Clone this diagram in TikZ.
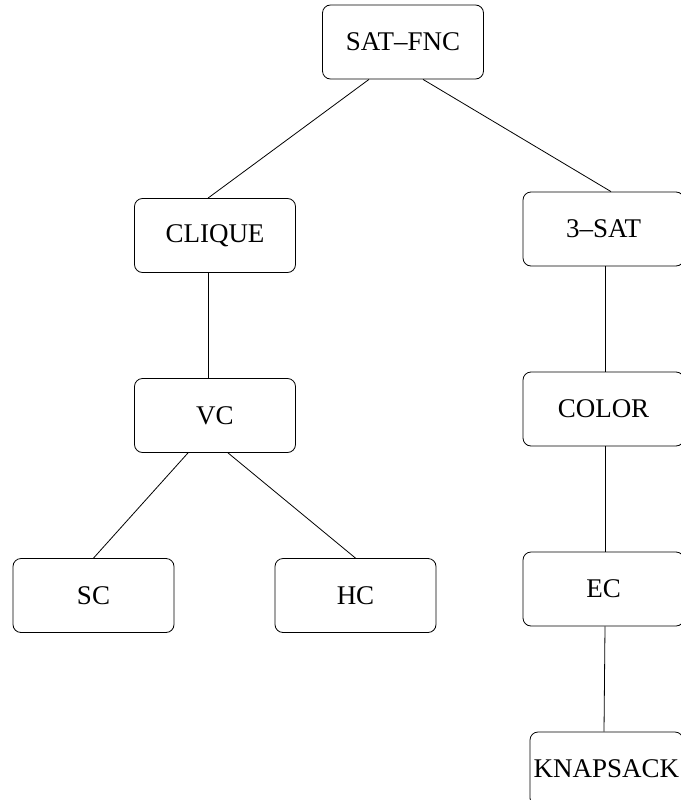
\documentclass[tikz,border=0pt]{standalone}
\usepackage{fontspec}
\setmainfont{Liberation Serif}

\begin{document}
\begin{tikzpicture}[x=1pt,y=-1pt,
  prob/.style={draw,rounded corners=8pt,line width=0.8pt,minimum width=161pt,
    minimum height=74pt,inner sep=0pt,font=\fontsize{27}{32}\selectfont},
  red/.style={line width=0.8pt}]
  \useasboundingbox(0,0)rectangle(680,800);
  \node[prob](sat)at(403,42){SAT--FNC};
  \node[prob](clique)at(215,235.5){CLIQUE};
  \node[prob](tsat)at(603.5,229){3--SAT};
  \node[prob](vc)at(215,415.5){VC};
  \node[prob](color)at(603.5,409){COLOR};
  \node[prob](sc)at(93.5,595.5){SC};
  \node[prob](hc)at(355.5,595.5){HC};
  \node[prob](ec)at(603.5,589){EC};
  \node[prob,minimum width=153pt](knap)at(606.5,769){KNAPSACK};
  \draw[red]([xshift=-34pt]sat.south)--([xshift=-7pt]clique.north);
  \draw[red]([xshift=20pt]sat.south)--([xshift=7.5pt]tsat.north);
  \draw[red]([xshift=-7pt]clique.south)--([xshift=-7pt]vc.north);
  \draw[red]([xshift=-27pt]vc.south)--(sc.north);
  \draw[red]([xshift=13pt]vc.south)--(hc.north);
  \draw[red]([xshift=1.5pt]tsat.south)--([xshift=1.5pt]color.north);
  \draw[red]([xshift=1.5pt]color.south)--([xshift=1.5pt]ec.north);
  \draw[red]([xshift=1.5pt]ec.south)--([xshift=-2.5pt]knap.north);
\end{tikzpicture}
\end{document}
